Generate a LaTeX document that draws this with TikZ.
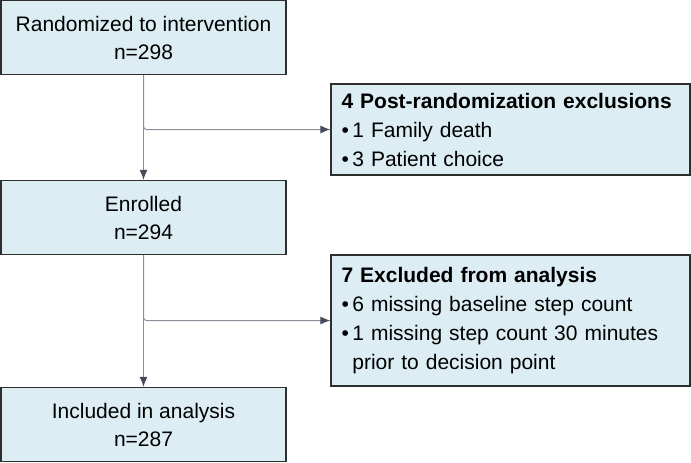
\documentclass[tikz,border=0pt]{standalone}
\usepackage{fontspec}
\setmainfont{Liberation Sans}
\usetikzlibrary{arrows.meta}

\definecolor{boxfill}{HTML}{DCEDF3}
\definecolor{boxline}{HTML}{2E2E2E}
\definecolor{flowline}{HTML}{8A8E98}
\definecolor{tipcol}{HTML}{474C59}

\tikzset{
  stagebox/.style = {draw=boxline, fill=boxfill, line width=1.3pt, inner sep=0pt,
                     minimum width=285pt, minimum height=74pt, align=center,
                     font=\fontsize{21}{28}\selectfont},
  exclbox/.style  = {draw=boxline, fill=boxfill, line width=1.3pt, inner xsep=10pt, inner ysep=0pt,
                     text width=338pt, align=left, minimum width=359pt,
                     font=\fontsize{21}{29}\selectfont},
  flow/.style     = {draw=flowline, line width=1pt, rounded corners=3pt,
                     -{Latex[length=10pt,width=8pt,color=tipcol]}}
}

\newcommand{\itm}{\textbullet\,}

\begin{document}
\begin{tikzpicture}[x=1pt, y=-1pt]
  \useasboundingbox (0,0) rectangle (691,463);

  %%% main column
  \node[stagebox] (rand) at (143.5,37.5)  {Randomized to intervention\\ n=298};
  \node[stagebox] (enrl) at (143.5,217.5) {Enrolled\\ n=294};
  \node[stagebox] (incl) at (143.5,424.5) {Included in analysis\\ n=287};

  %%% exclusions
  \node[exclbox, minimum height=91pt] (post) at (510.5,129.5)
    {\textbf{4 Post-randomization exclusions}\\
     \itm 1 Family death\\
     \itm 3 Patient choice};
  \node[exclbox, minimum height=131pt] (anal) at (510.5,320.5)
    {\textbf{7 Excluded from analysis}\\
     \itm 6 missing baseline step count\\
     \itm 1 missing step count 30 minutes\\
     \hphantom{\itm}prior to decision point};

  %%% arrows
  \draw[flow] (rand.south) -- (enrl.north);
  \draw[flow] (rand.south) |- (post.west);
  \draw[flow] (enrl.south) -- (incl.north);
  \draw[flow] (enrl.south) |- (anal.west);
\end{tikzpicture}
\end{document}
